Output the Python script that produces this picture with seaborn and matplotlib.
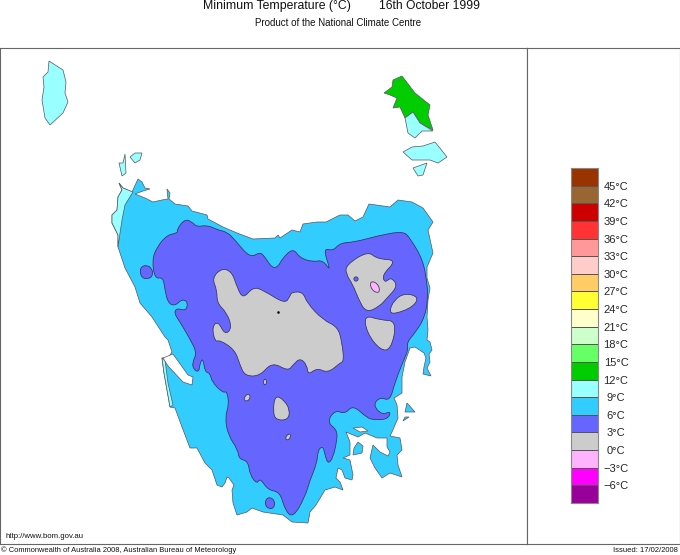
"""
Minimum temperature map of Tasmania, 16 October 1999.
Outlines are traced off the picture, in map units.
"""

import numpy as np
import matplotlib
matplotlib.use('Agg')
import matplotlib.pyplot as plt
from matplotlib.colors import ListedColormap
from matplotlib.patches import PathPatch
from matplotlib.path import Path
import seaborn as sns

# Temperature bands, warmest first
band_labels = ['45°C', '42°C', '39°C', '36°C', '33°C', '30°C', '27°C', '24°C', '21°C', '18°C',
               '15°C', '12°C', '9°C', '6°C', '3°C', '0°C', '−3°C', '−6°C']
band_colors = ['#993300', '#996633', '#cc0000', '#ff3333', '#ff9999', '#ffcccc', '#ffcc66',
               '#ffff33', '#ffffcc', '#ccffcc', '#66ff66', '#00cc00', '#99ffff', '#33ccff',
               '#6666ff', '#cccccc', '#ffb3ff', '#ff00ff', '#990099']

# Land and isotherm outlines
mainland = [(119, 183), (123, 188), (132, 192), (138, 179), (142, 182), (145, 188), (150, 189),
            (143, 191), (135, 194), (145, 198), (153, 202), (162, 200), (168, 199), (167, 189),
            (170, 193), (169, 199), (175, 204), (188, 206), (192, 211), (207, 215), (208, 219),
            (223, 227), (237, 233), (253, 239), (275, 238), (278, 235), (280, 238), (292, 230),
            (300, 232), (303, 224), (317, 222), (326, 222), (340, 215), (348, 215), (355, 221),
            (363, 217), (369, 204), (390, 207), (398, 200), (412, 202), (423, 208), (433, 222),
            (428, 230), (433, 253), (427, 267), (427, 278), (430, 288), (428, 300), (427, 317),
            (428, 330), (427, 340), (430, 342), (432, 350), (429, 354), (430, 362), (427, 368),
            (431, 376), (423, 374), (424, 367), (426, 358), (424, 353), (415, 347),
            (410, 348), (405, 362), (402, 377), (402, 393), (394, 398), (397, 405), (398, 418),
            (392, 432), (390, 436), (400, 438), (402, 450), (397, 455), (398, 465), (402, 477),
            (390, 473), (382, 478), (375, 468), (370, 458), (373, 445), (380, 452), (388, 456),
            (390, 452), (387, 447), (387, 438), (377, 438), (365, 433), (358, 437), (346, 432),
            (350, 442), (350, 455), (343, 458), (350, 460), (353, 475), (352, 480), (345, 478),
            (342, 470), (338, 468), (336, 478), (340, 482), (343, 490), (335, 487), (325, 490),
            (322, 495), (316, 505), (310, 512), (308, 523), (292, 522), (283, 515), (263, 512),
            (252, 508), (247, 512), (237, 515), (233, 503), (232, 490), (234, 485), (229, 478),
            (227, 477), (225, 483), (222, 487), (217, 485), (212, 470), (205, 463), (197, 448),
            (190, 448), (182, 427), (175, 408), (170, 407), (164, 373), (162, 358), (168, 358),
            (172, 352), (168, 340), (165, 337), (152, 317), (140, 303), (135, 287), (125, 268),
            (118, 247), (118, 235), (112, 223), (112, 215), (117, 210), (118, 197), (122, 190)]
west_strip = [(119, 183), (123, 188), (133, 192), (125, 205), (122, 220), (119, 240), (118, 247),
              (118, 235), (112, 223), (112, 215), (117, 210), (118, 197), (122, 190)]
harbour_strip = [(162, 358), (165, 360), (168, 383), (173, 405), (170, 407), (164, 373)]
band_3_6 = [(177, 229), (185, 219), (192, 222), (197, 227), (207, 225), (218, 230), (227, 232),
            (235, 240), (250, 258), (260, 252), (265, 257), (272, 268), (278, 267), (282, 259),
            (293, 248), (300, 258), (313, 262), (323, 260), (331, 272), (323, 248), (333, 251),
            (340, 243), (355, 242), (377, 236), (403, 231), (410, 238), (423, 260), (427, 283),
            (428, 297), (425, 317), (415, 333), (407, 342), (408, 350), (405, 357), (395, 382),
            (390, 401), (380, 397), (373, 405), (382, 415), (391, 411), (388, 419), (375, 420),
            (367, 418), (353, 405), (345, 414), (335, 410), (327, 422), (337, 430), (337, 440),
            (333, 458), (328, 464), (325, 455), (323, 446), (318, 450), (317, 463), (310, 480),
            (305, 497), (293, 518), (285, 510), (280, 492), (268, 490), (260, 478), (257, 484),
            (250, 475), (248, 461), (239, 459), (238, 450), (228, 435), (225, 417), (229, 405),
            (227, 391), (223, 393), (212, 382), (210, 373), (205, 372), (203, 358), (200, 363),
            (199, 372), (194, 370), (192, 363), (197, 353), (190, 339), (180, 322), (174, 313),
            (177, 308), (186, 311), (188, 302), (182, 299), (175, 306), (168, 303), (165, 290),
            (163, 277), (155, 279), (152, 260), (157, 247), (167, 235), (178, 233)]
blob_3_6_west = [(146, 265), (152, 268), (153, 276), (148, 279), (142, 278), (140, 272), (141, 267)]
blob_3_6_south = [(270, 497), (275, 501), (274, 508), (269, 509), (265, 505), (266, 499)]
grey_west = [(212, 278), (222, 268), (232, 272), (237, 287), (243, 299), (253, 287), (263, 290),
             (285, 304), (290, 296), (292, 292), (303, 292), (307, 303), (323, 320), (338, 327),
             (342, 343), (344, 361), (340, 363), (328, 373), (317, 368), (308, 375), (307, 365),
             (300, 358), (293, 365), (288, 371), (272, 362), (260, 376), (245, 376), (240, 365),
             (235, 350), (220, 340), (215, 342), (212, 327), (218, 321), (225, 335), (232, 328),
             (227, 313), (217, 303), (217, 290)]
grey_north_east = [(346, 265), (368, 251), (377, 259), (397, 260), (382, 275), (385, 283), (391, 277),
                   (398, 286), (387, 298), (380, 306), (366, 313), (358, 298), (353, 285), (346, 274)]
grey_oval = [(389, 312), (394, 300), (405, 293), (419, 297), (413, 307), (395, 314)]
grey_east = [(364, 315), (380, 320), (397, 321), (391, 350), (380, 350), (367, 333)]
grey_south = [(275, 395), (284, 400), (290, 410), (288, 420), (276, 420), (273, 412)]
grey_small_1 = [(248, 393), (251, 397), (247, 402), (243, 399)]
grey_small_2 = [(265, 378), (267, 382), (265, 386), (263, 382)]
grey_small_3 = [(290, 433), (291, 437), (287, 441), (285, 437)]
purple_hole = [(356, 276), (359, 279), (356, 282), (353, 279)]
pink_patch = [(372, 281), (378, 284), (380, 291), (377, 293), (372, 290), (370, 284)]
harbour = [(163, 358), (173, 354), (188, 375), (193, 377), (192, 385), (183, 382), (168, 366)]
inlet = [(353, 428), (362, 427), (368, 431), (360, 432)]
bay_island = [(358, 442), (363, 446), (362, 453), (353, 455), (354, 448)]
king_island = [(49, 61), (63, 70), (66, 82), (65, 93), (68, 102), (63, 113), (50, 125), (45, 118),
               (42, 100), (44, 87), (43, 77), (48, 72)]
flinders_green = [(402, 76), (415, 93), (430, 105), (428, 115), (433, 130), (420, 123), (413, 112),
                  (405, 118), (400, 107), (393, 108), (397, 98), (390, 95), (384, 93), (392, 87),
                  (393, 80)]
flinders_cyan = [(405, 118), (413, 112), (420, 123), (433, 131), (422, 131), (415, 138), (408, 133)]
cape_barren = [(403, 152), (412, 147), (423, 146), (435, 142), (447, 157), (438, 163), (430, 160),
               (412, 160)]
clarke_island = [(413, 168), (427, 163), (423, 175), (418, 176)]
robbins_island = [(130, 157), (135, 153), (142, 153), (140, 160), (135, 163)]
hunter_island = [(125, 154), (123, 163), (119, 163), (122, 176), (126, 173)]
maria_north = [(407, 403), (415, 412), (405, 412)]
maria_south = [(405, 417), (409, 417), (403, 421)]

BLUE = '#33ccff'
CYAN = '#99ffff'
PURPLE = '#6666ff'
GREY = '#cccccc'
GREEN = '#00cc00'
PINK = '#ffb3ff'

coast_layers = [
    (king_island, CYAN), (flinders_green, GREEN), (flinders_cyan, CYAN), (cape_barren, CYAN),
    (clarke_island, CYAN), (robbins_island, CYAN), (hunter_island, CYAN),
    (mainland, BLUE), (west_strip, CYAN), (harbour_strip, CYAN), (harbour, 'white'), (inlet, 'white'),
    (bay_island, BLUE), (maria_north, BLUE), (maria_south, BLUE),
]
isotherm_layers = [
    (band_3_6, PURPLE), (blob_3_6_west, PURPLE), (blob_3_6_south, PURPLE),
    (grey_west, GREY), (grey_north_east, GREY), (grey_oval, GREY), (grey_east, GREY),
    (grey_south, GREY), (grey_small_1, GREY), (grey_small_2, GREY), (grey_small_3, GREY),
    (purple_hole, PURPLE), (pink_patch, PINK),
]

sns.set_style('white')
plt.rcParams['font.family'] = ['Liberation Sans', 'DejaVu Sans']

W, H = 680, 555
fig = plt.figure(figsize=(W / 100, H / 100), dpi=100, facecolor='white')


def add_axes_px(left, top, right, bottom):
    return fig.add_axes([left / W, 1 - bottom / H, (right - left) / W, (bottom - top) / H])


def rounded_path(outline):
    # closed quadratic curve that uses the traced points as control points
    pts = np.array(outline, dtype=float)
    mids = (pts + np.roll(pts, -1, axis=0)) / 2
    verts = [mids[-1]]
    codes = [Path.MOVETO]
    for p, m in zip(pts, mids):
        verts += [p, m]
        codes += [Path.CURVE3, Path.CURVE3]
    return Path(verts, codes)


# Map panel
ax = add_axes_px(0, 48, 527, 544)
ax.set_xlim(0, 527)
ax.set_ylim(544, 48)
ax.set_xticks([])
ax.set_yticks([])
for outline, color in coast_layers:
    xs, ys = zip(*outline)
    ax.fill(xs, ys, facecolor=color, edgecolor='#555560', linewidth=0.5)
for outline, color in isotherm_layers:
    ax.add_patch(PathPatch(rounded_path(outline), facecolor=color, edgecolor='#333355', linewidth=0.55))
ax.scatter([278], [312], s=0.7, color='black')
for spine in ax.spines.values():
    spine.set_linewidth(0.8)
    spine.set_color('#666666')

# Right hand panel
side = add_axes_px(527, 48, 680, 544)
side.set_xticks([])
side.set_yticks([])
for spine in side.spines.values():
    spine.set_linewidth(0.8)
    spine.set_color('#666666')

# Colour key
cax = add_axes_px(571, 168, 598, 503)
cells = np.arange(len(band_colors)).reshape(-1, 1)
sns.heatmap(cells, ax=cax, cmap=ListedColormap(band_colors), cbar=False, linewidths=0.5,
            linecolor='#555555', xticklabels=False, clip_on=False)
cax.yaxis.tick_right()
cax.set_yticks(np.arange(1, len(band_colors)), labels=band_labels, rotation=0)
cax.tick_params(axis='y', length=0, pad=13, labelsize=8, labelright=True, labelleft=False)
for label in cax.get_yticklabels():
    label.set_horizontalalignment('center')
for spine in cax.spines.values():
    spine.set_visible(True)
    spine.set_linewidth(0.8)
    spine.set_color('#888888')


def label_px(x, y, text, size, ha='left', **kwargs):
    fig.text(x / W, 1 - y / H, text, fontsize=size, ha=ha, va='center', color='#111111', **kwargs)


label_px(203, 6, 'Minimum Temperature (°C)', 8.8)
label_px(379, 6, '16th October 1999', 8.7)
label_px(255, 23, 'Product of the National Climate Centre', 7.05)
label_px(5, 537, 'http://www.bom.gov.au', 5.6)
label_px(1, 550, '© Commonwealth of Australia 2008, Australian Bureau of Meteorology', 5.45)
label_px(678, 550, 'Issued: 17/02/2008', 5.5, ha='right')

fig.savefig('out.png', dpi=100, facecolor='white')
